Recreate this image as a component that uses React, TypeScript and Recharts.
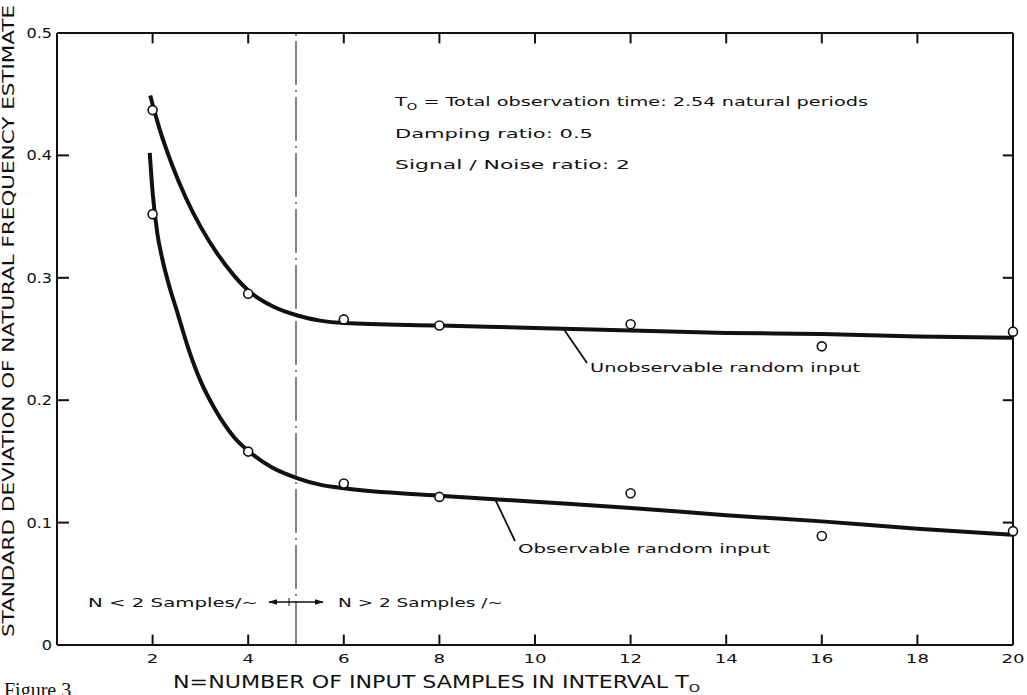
import { ComposedChart, Line, Scatter, XAxis, YAxis, ReferenceLine } from 'recharts';

const FONT = '"DejaVu Sans", sans-serif';
const INK = '#111';

// tick values
const xTicks = [2, 4, 6, 8, 10, 12, 14, 16, 18, 20];
const yTicks = [0, 0.1, 0.2, 0.3, 0.4, 0.5];

// measured points (circles)
const pointN = [2, 4, 6, 8, 12, 16, 20];
const unobsPointSd = [0.437, 0.287, 0.266, 0.261, 0.262, 0.244, 0.256];
const obsPointSd = [0.352, 0.158, 0.132, 0.121, 0.124, 0.089, 0.093];

// faired curves
const unobsCurveN = [1.95, 2.15, 2.4, 2.7, 3.0, 3.35, 3.7, 4.05, 4.5, 5.05, 5.5, 6, 8, 10, 12, 14, 16, 18, 20];
const unobsCurveSd = [0.449, 0.421, 0.393, 0.365, 0.342, 0.32, 0.302, 0.288, 0.277, 0.269, 0.265, 0.263, 0.261, 0.259, 0.257, 0.255, 0.254, 0.252, 0.251];
const obsCurveN = [1.94, 2.0, 2.1, 2.2, 2.35, 2.5, 2.75, 3.0, 3.3, 3.7, 4.05, 4.5, 5.05, 5.5, 6, 8, 10, 12, 14, 16, 18, 20];
const obsCurveSd = [0.402, 0.37, 0.336, 0.316, 0.293, 0.274, 0.242, 0.216, 0.193, 0.17, 0.157, 0.145, 0.136, 0.131, 0.128, 0.122, 0.117, 0.112, 0.106, 0.101, 0.095, 0.09];

const zip = (xs: number[], ys: number[]) => xs.map((x, i) => ({ x, y: ys[i] }));

const unobsPoints = zip(pointN, unobsPointSd);
const obsPoints = zip(pointN, obsPointSd);
const unobsCurve = zip(unobsCurveN, unobsCurveSd);
const obsCurve = zip(obsCurveN, obsCurveSd);

const fmtY = (v: number) => (v === 0 ? '0' : v.toFixed(1));

// inward tick lengths in data units (≈10-12 px)
const X_MIN = 0;
const X_MAX = 20;
const Y_MIN = 0;
const Y_MAX = 0.5;
const xTickLen = 0.0085;
const yTickLen = 0.25;

const axisStroke = { stroke: INK, strokeWidth: 2 };

const BottomTick = ({ x, y, payload }: any) => (
  <text
    transform={`translate(${x}, ${y}) scale(1.4, 1)`}
    textAnchor="middle"
    fontSize={13}
    fontFamily={FONT}
    fill={INK}
  >
    {payload.value}
  </text>
);

const LeftTick = ({ x, y, payload }: any) => (
  <text
    transform={`translate(${x}, ${y + 5}) scale(1.15, 1)`}
    textAnchor="end"
    fontSize={14}
    fontFamily={FONT}
    fill={INK}
  >
    {fmtY(payload.value)}
  </text>
);

const OpenCircle = ({ cx, cy }: any) => (
  <circle cx={cx} cy={cy} r={4.5} fill="#fff" stroke={INK} strokeWidth={1.6} />
);

export default function App() {
  return (
    <div style={{ position: 'absolute', left: 0, top: 0, width: 1027, height: 695, background: '#fff' }}>
      <ComposedChart width={1027} height={695} margin={{ top: 28, right: 9, bottom: 20, left: 7 }}>
        <XAxis
          dataKey="x"
          type="number"
          domain={[X_MIN, X_MAX]}
          ticks={xTicks}
          interval={0}
          height={30}
          tickSize={0}
          tickMargin={18}
          tickLine={false}
          axisLine={axisStroke}
          tick={(p: any) => <BottomTick {...p} />}
        />
        <XAxis
          xAxisId="top"
          orientation="top"
          dataKey="x"
          type="number"
          domain={[X_MIN, X_MAX]}
          ticks={xTicks}
          height={5}
          tickLine={false}
          axisLine={axisStroke}
          tick={false}
        />
        <YAxis
          dataKey="y"
          type="number"
          domain={[Y_MIN, Y_MAX]}
          ticks={yTicks}
          interval={0}
          width={50}
          tickSize={0}
          tickMargin={5}
          tickLine={false}
          axisLine={axisStroke}
          tick={(p: any) => <LeftTick {...p} />}
        />
        <YAxis
          yAxisId="right"
          orientation="right"
          dataKey="y"
          type="number"
          domain={[Y_MIN, Y_MAX]}
          ticks={yTicks}
          width={5}
          tickLine={false}
          axisLine={axisStroke}
          tick={false}
        />

        {/* inward tick marks on all four sides */}
        {xTicks.map((t) => (
          <ReferenceLine
            key={`b${t}`}
            segment={[{ x: t, y: Y_MIN }, { x: t, y: Y_MIN + xTickLen }]}
            stroke={INK}
            strokeWidth={2}
          />
        ))}
        {xTicks.slice(0, -1).map((t) => (
          <ReferenceLine
            key={`t${t}`}
            segment={[{ x: t, y: Y_MAX }, { x: t, y: Y_MAX - xTickLen }]}
            stroke={INK}
            strokeWidth={2}
          />
        ))}
        {yTicks.slice(1, -1).map((t) => (
          <ReferenceLine
            key={`l${t}`}
            segment={[{ x: X_MIN, y: t }, { x: X_MIN + yTickLen, y: t }]}
            stroke={INK}
            strokeWidth={2}
          />
        ))}
        {yTicks.slice(1, -1).map((t) => (
          <ReferenceLine
            key={`r${t}`}
            segment={[{ x: X_MAX - yTickLen * 0.85, y: t }, { x: X_MAX, y: t }]}
            stroke={INK}
            strokeWidth={2}
          />
        ))}

        <ReferenceLine x={5} stroke="#333" strokeWidth={1.2} strokeDasharray="44 5 2 5" />
        <Line
          data={unobsCurve}
          dataKey="y"
          type="monotone"
          stroke={INK}
          strokeWidth={4}
          dot={false}
          isAnimationActive={false}
        />
        <Line
          data={obsCurve}
          dataKey="y"
          type="monotone"
          stroke={INK}
          strokeWidth={4}
          dot={false}
          isAnimationActive={false}
        />
        <Scatter data={unobsPoints} dataKey="y" shape={(p: any) => <OpenCircle {...p} />} isAnimationActive={false} />
        <Scatter data={obsPoints} dataKey="y" shape={(p: any) => <OpenCircle {...p} />} isAnimationActive={false} />
      </ComposedChart>

      <svg
        width={1027}
        height={695}
        style={{ position: 'absolute', left: 0, top: 0, pointerEvents: 'none' }}
        fontFamily={FONT}
        fill={INK}
      >
        <defs>
          <marker id="ah" viewBox="0 0 10 10" refX="9" refY="5" markerWidth="7" markerHeight="7" orient="auto-start-reverse">
            <path d="M0,2 L10,5 L0,8 z" fill={INK} />
          </marker>
        </defs>

        {/* axis titles */}
        <text
          transform="translate(14, 321) rotate(-90)"
          textAnchor="middle"
          fontSize={16}
          textLength={632}
          lengthAdjust="spacingAndGlyphs"
        >
          STANDARD DEVIATION OF NATURAL FREQUENCY ESTIMATE
        </text>
        <text x={173} y={688} fontSize={17} textLength={527} lengthAdjust="spacingAndGlyphs">
          N=NUMBER OF INPUT SAMPLES IN INTERVAL T<tspan fontSize={11} dy={4}>O</tspan>
        </text>
        <text x={4} y={697} fontSize={20} fontFamily='"Liberation Serif", serif'>
          Figure 3
        </text>

        {/* parameters */}
        <text x={395} y={106} fontSize={13} textLength={473} lengthAdjust="spacingAndGlyphs">
          T<tspan fontSize={9} dy={4}>O</tspan>
          <tspan dy={-4}> = Total observation time: 2.54 natural periods</tspan>
        </text>
        <text x={395} y={138} fontSize={13} textLength={198} lengthAdjust="spacingAndGlyphs">
          Damping ratio:  0.5
        </text>
        <text x={395} y={169} fontSize={13} textLength={235} lengthAdjust="spacingAndGlyphs">
          Signal / Noise  ratio:  2
        </text>

        {/* curve labels */}
        <line x1={563} y1={328} x2={587} y2={363} stroke={INK} strokeWidth={1.8} />
        <text x={590} y={372} fontSize={13} textLength={270} lengthAdjust="spacingAndGlyphs">
          Unobservable random input
        </text>
        <line x1={495} y1={499} x2={515} y2={541} stroke={INK} strokeWidth={1.8} />
        <text x={518} y={553} fontSize={13} textLength={252} lengthAdjust="spacingAndGlyphs">
          Observable random input
        </text>

        {/* sampling regions */}
        <text x={88} y={607} fontSize={13} textLength={170} lengthAdjust="spacingAndGlyphs">
          N &lt; 2 Samples/~
        </text>
        <line x1={269} y1={602} x2={323} y2={602} stroke={INK} strokeWidth={1.3} markerStart="url(#ah)" markerEnd="url(#ah)" />
        <line x1={289} y1={598} x2={289} y2={606} stroke={INK} strokeWidth={1} />
        <text x={338} y={607} fontSize={13} textLength={165} lengthAdjust="spacingAndGlyphs">
          N &gt; 2 Samples /~
        </text>
      </svg>
    </div>
  );
}
